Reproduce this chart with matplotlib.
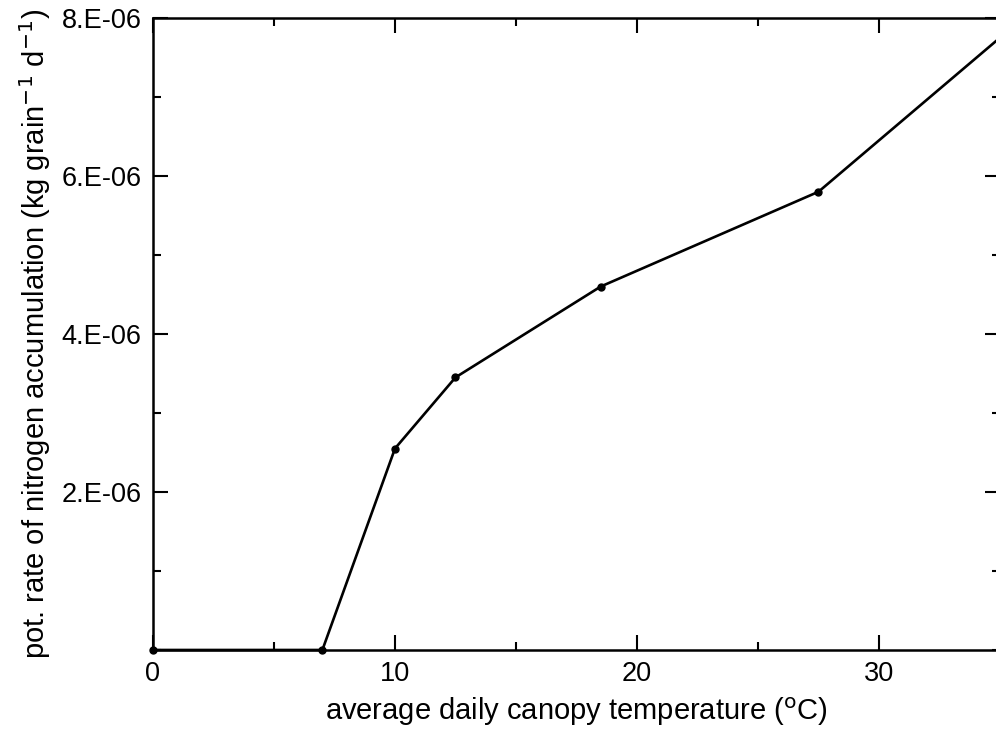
import matplotlib
matplotlib.use("Agg")
from matplotlib import pyplot as plt
from matplotlib.ticker import MultipleLocator, FixedLocator, FuncFormatter

# temperature (deg C) vs potential N accumulation rate
temp = [0, 7, 10, 12.5, 18.5, 27.5, 35]
rate = [0, 0, 2.55e-6, 3.45e-6, 4.6e-6, 5.8e-6, 7.75e-6]

ytick_vals = [2e-6, 4e-6, 6e-6, 8e-6]
ytick_labels = ['2.E-06', '4.E-06', '6.E-06', '8.E-06']
xtick_vals = [0, 10, 20, 30]

plt.rcParams['font.family'] = ['Liberation Sans', 'DejaVu Sans']

fig = plt.figure(figsize=(9.96, 7.29), dpi=100)
ax = fig.add_axes([0.1536, 0.1084, 0.8504, 0.867])

ax.plot(temp, rate, color='black', lw=1.9, marker='o', ms=5, clip_on=False, zorder=3)

ax.set_xlim(0, 35)
ax.set_ylim(0, 8e-6)

ax.xaxis.set_major_locator(FixedLocator(xtick_vals))
ax.xaxis.set_minor_locator(MultipleLocator(5))
ax.yaxis.set_major_locator(FixedLocator(ytick_vals))
ax.yaxis.set_minor_locator(MultipleLocator(1e-6))
ax.set_yticklabels(ytick_labels)
ax.xaxis.set_major_formatter(FuncFormatter(lambda v, p: '%d' % v))

ax.tick_params(which='both', direction='in', top=True, right=True, width=1.5, labelsize=19.5, colors='black')
ax.tick_params(which='major', length=11, pad=8)
ax.tick_params(which='minor', length=6)
for s in ax.spines.values():
    s.set_linewidth(1.8)

ax.set_xlabel('average daily canopy temperature ($^{\\rm o}$C)', fontsize=21, labelpad=6)
ax.set_ylabel('pot. rate of nitrogen accumulation (kg grain$^{-1}$ d$^{-1}$)', fontsize=21, labelpad=6)

fig.savefig('out.png', dpi=100)
